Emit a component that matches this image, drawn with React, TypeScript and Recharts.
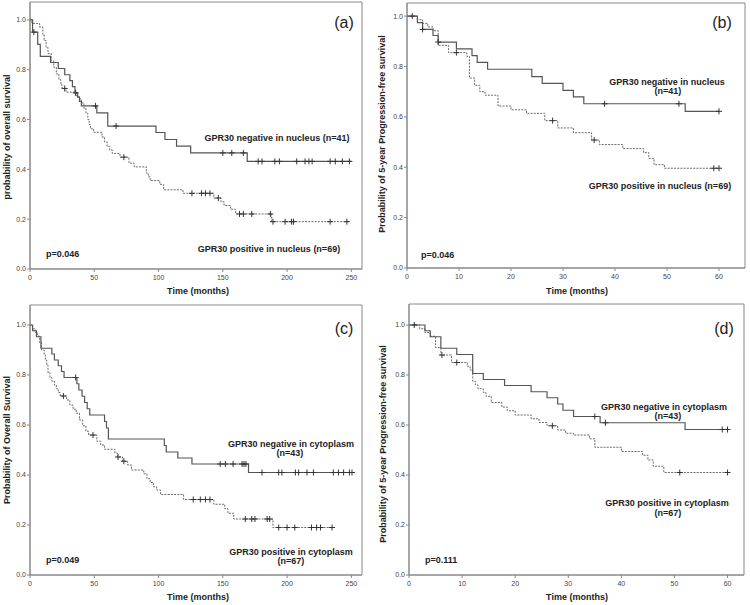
import React from "react";
import { ComposedChart, Line, Scatter, XAxis, YAxis, ReferenceArea } from "recharts";

// (a) overall survival, nuclear GPR30
const aNegT = [0, 2, 6, 8, 16, 22, 27, 31, 33, 35, 37, 38.5, 40, 52, 60.5, 98, 105, 114, 125, 169, 250];
const aNegS = [1, 0.951, 0.902, 0.854, 0.829, 0.805, 0.78, 0.756, 0.732, 0.707, 0.69, 0.673, 0.655, 0.627, 0.574, 0.548, 0.52, 0.493, 0.466, 0.432, 0.432];
const aNegC = [3, 35.5, 51, 67, 150, 157, 166, 177.5, 180.5, 190.5, 194, 207.5, 214, 217, 219.5, 233.5, 237.5, 243, 248.5];
const aPosT = [0, 1.5, 7.5, 10, 11, 12.5, 14, 16.5, 18.5, 20.5, 22.5, 24, 25, 28, 36, 38, 40, 42, 43.5, 45, 46, 47, 49.5, 56, 58, 60, 62, 64, 70, 77, 81, 90.5, 92, 93.5, 101, 104, 119, 143, 148.5, 151, 156, 160, 188, 248];
const aPosS = [1, 0.986, 0.971, 0.942, 0.917, 0.89, 0.865, 0.836, 0.81, 0.783, 0.76, 0.739, 0.725, 0.71, 0.696, 0.683, 0.667, 0.645, 0.625, 0.6, 0.58, 0.563, 0.549, 0.53, 0.51, 0.492, 0.478, 0.464, 0.449, 0.425, 0.41, 0.385, 0.37, 0.355, 0.34, 0.318, 0.304, 0.285, 0.27, 0.255, 0.24, 0.221, 0.19, 0.19];
const aPosC = [27, 73, 126, 133.5, 136.5, 140, 146.5, 163, 166, 172.5, 187, 189, 198.5, 203.5, 205, 233.5, 246.5];

// (b) 5-year PFS, nuclear GPR30
const bNegT = [0, 2, 3, 5, 6, 9.5, 12.5, 13.5, 15.5, 24, 26, 30, 32, 34, 53.5, 60];
const bNegS = [1, 0.974, 0.947, 0.923, 0.897, 0.87, 0.843, 0.816, 0.789, 0.76, 0.733, 0.705, 0.679, 0.652, 0.622, 0.622];
const bNegC = [1, 3, 6, 38, 52.3, 60];
const bPosT = [0, 2, 3, 4, 5, 6, 8, 11.5, 12, 13, 14, 15, 17.5, 20, 23, 26.5, 29, 32, 35.5, 37, 41.5, 45.5, 46.5, 47.5, 49.5, 60];
const bPosS = [1, 0.986, 0.971, 0.957, 0.942, 0.884, 0.855, 0.84, 0.754, 0.725, 0.7, 0.686, 0.643, 0.628, 0.614, 0.585, 0.556, 0.537, 0.508, 0.49, 0.474, 0.458, 0.435, 0.41, 0.396, 0.396];
const bPosC = [9.5, 28, 36, 59, 60];

// (c) overall survival, cytoplasmic GPR30
const cNegT = [0, 2, 5, 8.5, 17, 19, 22, 24.5, 26.5, 36.5, 38, 40.5, 42.5, 44.5, 46.5, 58, 59.5, 61, 104.5, 106, 115, 126, 170, 251];
const cNegS = [1, 0.977, 0.953, 0.907, 0.884, 0.86, 0.837, 0.814, 0.79, 0.765, 0.74, 0.715, 0.69, 0.665, 0.64, 0.614, 0.588, 0.544, 0.518, 0.492, 0.468, 0.444, 0.41, 0.41];
const cNegC = [35.5, 148, 152, 158, 165, 166.5, 168, 180.5, 193.5, 196, 206.5, 209, 215.5, 220.5, 236, 240, 244, 248.5, 250.5];
const cPosT = [0, 2, 4, 6, 7.5, 9, 11, 12, 13, 14, 15.5, 17, 19, 20.5, 22, 23.5, 28.5, 31, 33.5, 36, 38.5, 41, 43.5, 45.5, 52, 55, 58, 66, 68, 72, 76, 79, 88.5, 91, 93.5, 96, 98.5, 101.5, 119.5, 143, 151.5, 154, 158.5, 189, 235];
const cPosS = [1, 0.985, 0.97, 0.955, 0.93, 0.9, 0.88, 0.86, 0.84, 0.81, 0.79, 0.775, 0.76, 0.745, 0.73, 0.716, 0.7, 0.68, 0.663, 0.647, 0.62, 0.597, 0.575, 0.56, 0.535, 0.52, 0.503, 0.488, 0.472, 0.455, 0.44, 0.42, 0.405, 0.385, 0.37, 0.353, 0.34, 0.322, 0.302, 0.283, 0.265, 0.247, 0.224, 0.19, 0.19];
const cPosC = [26, 49, 68.5, 73, 127, 132.5, 136.5, 140, 167.5, 172.5, 175, 184.5, 186.5, 193.5, 200, 206, 219, 223, 226, 235];

// (d) 5-year PFS, cytoplasmic GPR30
const dNegT = [0, 3, 4, 6, 9, 12, 14, 18, 23, 26, 28, 29, 31, 36, 52, 60];
const dNegS = [1, 0.977, 0.953, 0.907, 0.882, 0.806, 0.782, 0.758, 0.733, 0.709, 0.684, 0.659, 0.634, 0.609, 0.582, 0.582];
const dNegC = [1, 35, 37, 59, 60];
const dPosT = [0, 2, 3, 4, 5, 6, 8, 11, 11.5, 12, 12.5, 13, 14, 14.5, 15.5, 17.5, 18.5, 20, 23, 24.5, 26, 28, 29.5, 31, 34, 35, 40, 44, 45, 46, 48, 60];
const dPosS = [1, 0.985, 0.97, 0.955, 0.91, 0.88, 0.85, 0.835, 0.82, 0.775, 0.76, 0.745, 0.73, 0.715, 0.69, 0.672, 0.657, 0.64, 0.625, 0.61, 0.597, 0.58, 0.567, 0.56, 0.545, 0.511, 0.494, 0.479, 0.46, 0.435, 0.41, 0.41];
const dPosC = [6.2, 9, 27, 51, 60];

const osTicks = [0, 50, 100, 150, 200, 250];
const pfsTicks = [0, 10, 20, 30, 40, 50, 60];
const yTicks = [0, 0.2, 0.4, 0.6, 0.8, 1.0];

const FONT = "'Liberation Sans', Arial, sans-serif";

type Pt = { t: number; s: number };

function curve(T: number[], S: number[]): Pt[] {
  return T.map((t, i) => ({ t, s: S[i] }));
}

// censored cases sit on the curve level at their time
function marks(T: number[], S: number[], C: number[]): Pt[] {
  return C.map((c) => {
    let s = S[0];
    for (let i = 0; i < T.length; i++) if (T[i] <= c) s = S[i];
    return { t: c, s };
  });
}

const Plus = (p: any) => (
  <path d={`M${p.cx - 3},${p.cy}h6M${p.cx},${p.cy - 3}v6`} stroke="#333" strokeWidth={1} fill="none" />
);

type TextItem = { x: number; y: number; s: string; anchor?: string; bold?: boolean; size?: number; rot?: boolean };

interface PanelCfg {
  x: number; y: number; w: number; h: number;
  left: number; right: number; top: number; bottom: number;
  xMax: number; yMax: number; xTicks: number[];
  neg: Pt[]; pos: Pt[]; negC: Pt[]; posC: Pt[];
  texts: TextItem[];
}

function Panel({ c }: { c: PanelCfg }) {
  const tick = { fontSize: 7, fill: "#444", fontFamily: FONT };
  return (
    <div style={{ position: "absolute", left: c.x, top: c.y, width: c.w, height: c.h }}>
      <ComposedChart width={c.w} height={c.h} margin={{ top: c.top, right: c.right, left: 0, bottom: 0 }}>
        <XAxis
          dataKey="t"
          type="number"
          domain={[0, c.xMax]}
          ticks={c.xTicks}
          allowDataOverflow
          height={c.h - c.bottom}
          tickSize={3}
          tickMargin={3}
          tick={tick}
          stroke="#888"
        />
        <YAxis
          dataKey="s"
          type="number"
          domain={[0, c.yMax]}
          ticks={yTicks}
          allowDataOverflow
          width={c.left}
          tickSize={3}
          tickMargin={1}
          tick={tick}
          tickFormatter={(v: number) => v.toFixed(1)}
          stroke="#888"
        />
        <ReferenceArea x1={0} x2={c.xMax} y1={0} y2={c.yMax} fill="none" stroke="#888" strokeWidth={1} ifOverflow="visible" />
        <Line data={c.pos} dataKey="s" type="stepAfter" stroke="#6a6a6a" strokeWidth={1} strokeDasharray="2 1.2" dot={false} isAnimationActive={false} />
        <Line data={c.neg} dataKey="s" type="stepAfter" stroke="#555" strokeWidth={1.2} dot={false} isAnimationActive={false} />
        <Scatter data={c.posC} dataKey="s" shape={Plus} isAnimationActive={false} />
        <Scatter data={c.negC} dataKey="s" shape={Plus} isAnimationActive={false} />
      </ComposedChart>
      <svg width={c.w} height={c.h} style={{ position: "absolute", left: 0, top: 0, pointerEvents: "none" }}>
        {c.texts.map((t, i) => (
          <text
            key={i}
            x={t.x}
            y={t.y}
            textAnchor={(t.anchor as any) || "middle"}
            fontFamily={FONT}
            fontSize={t.size || 9}
            fontWeight={t.bold === false ? "normal" : "bold"}
            fill="#222"
            transform={t.rot ? `rotate(-90 ${t.x} ${t.y})` : undefined}
          >
            {t.s}
          </text>
        ))}
      </svg>
    </div>
  );
}

const panels: PanelCfg[] = [
  {
    x: 0, y: 0, w: 375, h: 302, left: 30, right: 13, top: 2, bottom: 269,
    xMax: 258.3, yMax: 1.072, xTicks: osTicks,
    neg: curve(aNegT, aNegS), pos: curve(aPosT, aPosS),
    negC: marks(aNegT, aNegS, aNegC), posC: marks(aPosT, aPosS, aPosC),
    texts: [
      { x: 344, y: 28, s: "(a)", size: 16, bold: false },
      { x: 277, y: 141, s: "GPR30 negative in nucleus (n=41)" },
      { x: 269, y: 252, s: "GPR30 positive in nucleus (n=69)" },
      { x: 46, y: 257, s: "p=0.046", anchor: "start" },
      { x: 10, y: 137, s: "probability of overall survival", rot: true },
      { x: 198, y: 294, s: "Time (months)" },
    ],
  },
  {
    x: 375, y: 0, w: 375, h: 302, left: 32, right: 5, top: 3, bottom: 268,
    xMax: 65, yMax: 1.052, xTicks: pfsTicks,
    neg: curve(bNegT, bNegS), pos: curve(bPosT, bPosS),
    negC: marks(bNegT, bNegS, bNegC), posC: marks(bPosT, bPosS, bPosC),
    texts: [
      { x: 347, y: 28, s: "(b)", size: 16, bold: false },
      { x: 292, y: 85, s: "GPR30 negative in nucleus" },
      { x: 293, y: 94, s: "(n=41)" },
      { x: 285, y: 189, s: "GPR30 positive in nucleus (n=69)" },
      { x: 46, y: 258, s: "p=0.046", anchor: "start" },
      { x: 10, y: 134, s: "Probability of 5-year Progression-free survival", rot: true },
      { x: 202, y: 294, s: "Time (months)" },
    ],
  },
  {
    x: 0, y: 302, w: 375, h: 303, left: 30, right: 13, top: 3, bottom: 273,
    xMax: 258.3, yMax: 1.08, xTicks: osTicks,
    neg: curve(cNegT, cNegS), pos: curve(cPosT, cPosS),
    negC: marks(cNegT, cNegS, cNegC), posC: marks(cPosT, cPosS, cPosC),
    texts: [
      { x: 344, y: 32, s: "(c)", size: 16, bold: false },
      { x: 291, y: 145, s: "GPR30 negative in cytoplasm" },
      { x: 290, y: 154, s: "(n=43)" },
      { x: 291, y: 253, s: "GPR30 positive in cytoplasm" },
      { x: 291, y: 262, s: "(n=67)" },
      { x: 46, y: 261, s: "p=0.049", anchor: "start" },
      { x: 10, y: 138, s: "Probability of Overall Survival", rot: true },
      { x: 198, y: 298, s: "Time (months)" },
    ],
  },
  {
    x: 375, y: 302, w: 375, h: 303, left: 34, right: 6, top: 2, bottom: 273,
    xMax: 63.1, yMax: 1.084, xTicks: pfsTicks,
    neg: curve(dNegT, dNegS), pos: curve(dPosT, dPosS),
    negC: marks(dNegT, dNegS, dNegC), posC: marks(dPosT, dPosS, dPosC),
    texts: [
      { x: 349, y: 32, s: "(d)", size: 16, bold: false },
      { x: 289, y: 108, s: "GPR30 negative in cytoplasm" },
      { x: 293, y: 117, s: "(n=43)" },
      { x: 292, y: 204, s: "GPR30 positive in cytoplasm" },
      { x: 293, y: 214, s: "(n=67)" },
      { x: 50, y: 261, s: "p=0.111", anchor: "start" },
      { x: 11, y: 142, s: "Probability of 5-year Progression-free survival", rot: true },
      { x: 202, y: 298, s: "Time (months)" },
    ],
  },
];

export default function App() {
  return (
    <div style={{ position: "absolute", left: 0, top: 0, width: 750, height: 605, background: "#fff" }}>
      {panels.map((p, i) => (
        <Panel key={i} c={p} />
      ))}
    </div>
  );
}
